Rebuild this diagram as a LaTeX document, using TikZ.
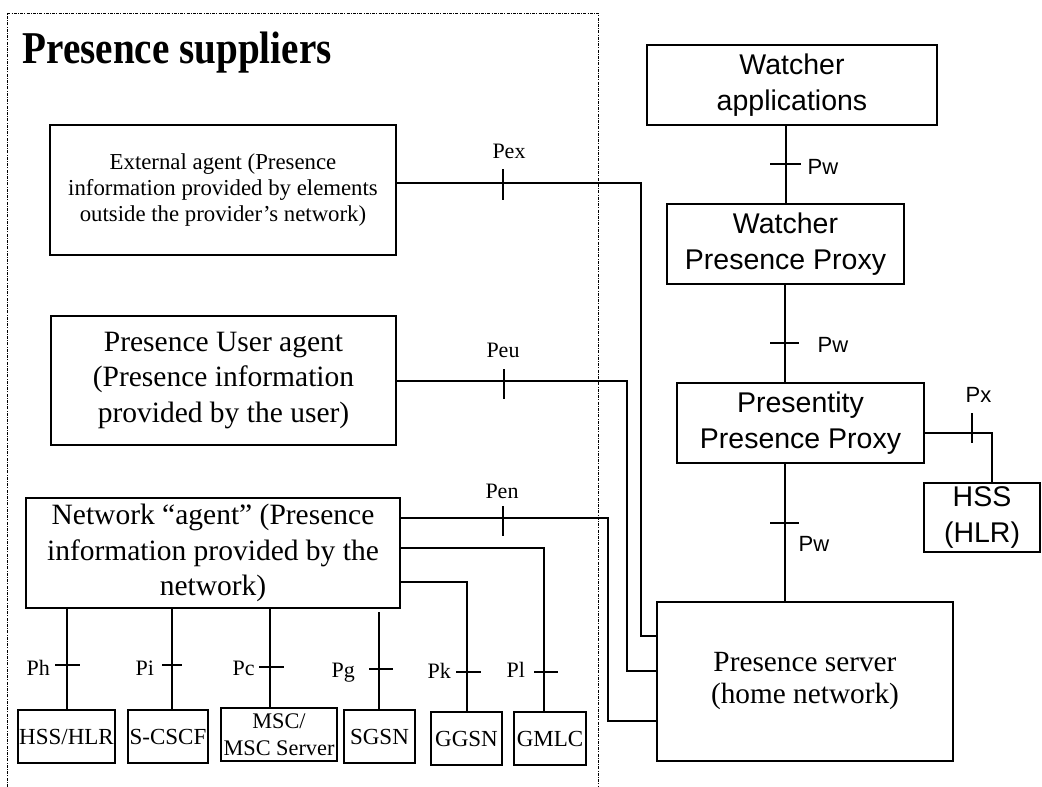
\documentclass[tikz,border=0pt]{standalone}
\usepackage{fontspec}
\setmainfont{Liberation Serif}
\setsansfont{Liberation Sans}
\newfontfamily\titlefont[FakeStretch=0.86]{Liberation Serif}
\begin{document}
\begin{tikzpicture}[x=1pt,y=-1pt,line width=1.2pt,
  box/.style={draw,inner sep=0pt,align=center},
  serifbig/.style={font=\fontsize{29.5}{35.5}\selectfont},
  serifmid/.style={font=\fontsize{22.8}{26}\selectfont},
  serifsmall/.style={font=\fontsize{23}{26.5}\selectfont},
  sansbox/.style={font=\sffamily\fontsize{28.5}{35.5}\selectfont},
  lab/.style={inner sep=0pt,font=\fontsize{22}{24}\selectfont},
  slab/.style={inner sep=0pt,font=\sffamily\fontsize{22}{24}\selectfont},
  frame/.style={line width=0.8pt,dash pattern=on 3pt off 1.2pt on 1pt off 1.2pt},
  tick/.style={line width=1.2pt}]
\useasboundingbox (0,0) rectangle (1042,787);

% dashed frame
\draw[frame] (7,787) -- (7,13) -- (598,13) -- (598,787);
\node[anchor=base west,inner sep=0pt,font=\titlefont\bfseries\fontsize{45.5}{50}\selectfont] (title) at (22,63) {Presence suppliers};

% left boxes
\node[box,serifmid,minimum width=346pt,minimum height=130pt] (ext) at (223,190)
  {External agent (Presence\\information provided by elements\\outside the provider’s network)};
\node[box,serifbig,minimum width=345pt,minimum height=129pt] (usr) at (223.5,380.5)
  {Presence User agent\\(Presence information\\provided by the user)};
\node[box,serifbig,minimum width=374pt,minimum height=110pt] (net) at (213,553)
  {Network “agent” (Presence\\information provided by the\\network)};

% bottom boxes
\node[box,serifsmall,minimum width=97pt,minimum height=53pt] (hsshlr) at (66.5,736.5) {HSS/HLR};
\node[box,serifsmall,minimum width=80pt,minimum height=53pt] (scscf) at (168,736.5) {S-CSCF};
\node[box,font=\fontsize{22.3}{26.5}\selectfont,minimum width=116pt,minimum height=53pt] (msc) at (279,734.5) {MSC/\\MSC Server};
\node[box,serifsmall,minimum width=71pt,minimum height=53pt] (sgsn) at (379.5,736.5) {SGSN};
\node[box,serifsmall,minimum width=71pt,minimum height=53pt] (ggsn) at (466.5,738.5) {GGSN};
\node[box,serifsmall,minimum width=72pt,minimum height=53pt] (gmlc) at (550,738.5) {GMLC};

% right boxes
\node[box,sansbox,minimum width=290pt,minimum height=80pt] (wapp) at (792,85) {Watcher\\applications};
\node[box,sansbox,minimum width=237pt,minimum height=80pt] (wpp) at (785.5,244) {Watcher\\Presence Proxy};
\node[box,sansbox,minimum width=247pt,minimum height=80pt] (ppp) at (800.5,423) {Presentity\\Presence Proxy};
\node[box,sansbox,minimum width=116pt,minimum height=69pt] (hss) at (982,517.5) {HSS\\(HLR)};
\node[box,font=\fontsize{29.3}{32}\selectfont,minimum width=296pt,minimum height=159pt] (srv) at (805,681.5)
  {Presence server\\(home network)};

% coordinates for bends
\coordinate (vx) at (786,0);
\coordinate (vx2) at (785,0);
\coordinate (pexc) at (641,183);
\coordinate (pexe) at (0,636);
\coordinate (peuc) at (627,381);
\coordinate (peue) at (0,671);
\coordinate (penc) at (608,518);
\coordinate (pene) at (0,721);
\coordinate (plc) at (544,548);
\coordinate (pkc) at (467,582);
\coordinate (pxc) at (992,433);
\coordinate (xph) at (67,0);
\coordinate (xpi) at (172,0);
\coordinate (xpc) at (270,0);
\coordinate (xpg) at (379,612);

% right-hand connectors
\draw (wapp.south -| vx) -- (wpp.north -| vx);
\draw (wpp.south -| vx2) -- (ppp.north -| vx2);
\draw (ppp.south -| vx2) -- (srv.north -| vx2);
\draw (ppp.east |- pxc) -- (pxc) -- (hss.north -| pxc);

% supplier connectors
\draw (ext.east |- pexc) -- (pexc) -- (pexc |- pexe) -- (srv.west |- pexe);
\draw (usr.east |- peuc) -- (peuc) -- (peuc |- peue) -- (srv.west |- peue);
\draw (net.east |- penc) -- (penc) -- (penc |- pene) -- (srv.west |- pene);
\draw (net.east |- plc) -- (plc) -- (gmlc.north -| plc);
\draw (net.east |- pkc) -- (pkc) -- (ggsn.north -| pkc);
\draw (net.south -| xph) -- (hsshlr.north -| xph);
\draw (net.south -| xpi) -- (scscf.north -| xpi);
\draw (net.south -| xpc) -- (msc.north -| xpc);
\draw (xpg) -- (sgsn.north -| xpg);

% ticks
\draw[tick] (770,164) -- (801,164);
\draw[tick] (770,343) -- (799,343);
\draw[tick] (770,523) -- (799,523);
\draw[tick] (972,413) -- (972,443);
\draw[tick] (503,169) -- (503,200);
\draw[tick] (504,369) -- (504,399);
\draw[tick] (503,506) -- (503,536);
\draw[tick] (55,665) -- (80,665);
\draw[tick] (162,665) -- (182,665);
\draw[tick] (259,667) -- (284,667);
\draw[tick] (369,669) -- (393,669);
\draw[tick] (456,672) -- (481,672);
\draw[tick] (534,672) -- (558,672);

% labels
\node[slab,anchor=base west] (lpw1) at (807,174) {Pw};
\node[slab,anchor=base west] (lpw2) at (817,352) {Pw};
\node[slab,anchor=base west] (lpw3) at (798,551) {Pw};
\node[slab,anchor=base west] (lpx) at (965,402) {Px};
\node[lab,anchor=base] (lpex) at (509,158) {Pex};
\node[lab,anchor=base] (lpeu) at (503,357) {Peu};
\node[lab,anchor=base] (lpen) at (502,498) {Pen};
\node[lab,anchor=base west] (lph) at (26,675) {Ph};
\node[lab,anchor=base west] (lpi) at (135,675) {Pi};
\node[lab,anchor=base west] (lpc) at (232,675) {Pc};
\node[lab,anchor=base west] (lpg) at (331,677) {Pg};
\node[lab,anchor=base west] (lpk) at (427,678) {Pk};
\node[lab,anchor=base west] (lpl) at (506,677) {Pl};
\end{tikzpicture}
\end{document}
